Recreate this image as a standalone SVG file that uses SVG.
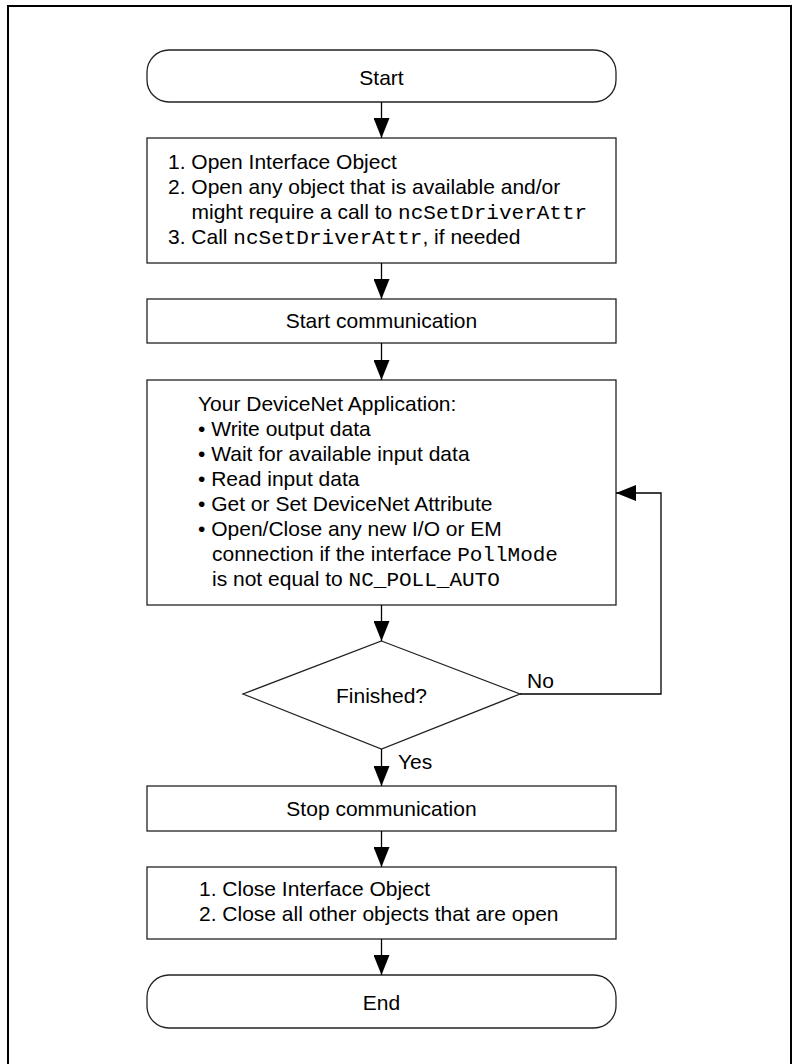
<svg xmlns="http://www.w3.org/2000/svg" width="800" height="1064" viewBox="0 0 800 1064">
<style>
.shape{fill:#fff;stroke:#222;stroke-width:1.3}
.t{font-family:"Liberation Sans",Arial,sans-serif;font-size:21px;fill:#000}
.c{text-anchor:middle}
.m{font-family:"Liberation Mono","Courier New",monospace}
.line{fill:none;stroke:#000;stroke-width:1.3}
</style>
<defs>
<marker id="ah" markerUnits="userSpaceOnUse" markerWidth="20" markerHeight="16" viewBox="0 0 20 16" refX="20" refY="8" orient="auto">
<path d="M0,0 L20,8 L0,16 Z" fill="#000"/>
</marker>
</defs>
<rect x="8" y="6" width="783" height="1080" fill="#fff" stroke="#000" stroke-width="2"/>
<g id="start">
<rect class="shape" x="147" y="50" width="469" height="52" rx="22" ry="22"/>
<text class="t c" x="381.5" y="84.5">Start</text>
</g>
<g id="open">
<rect class="shape" x="147" y="138" width="469" height="125"/>
<text class="t" x="168" y="169">1. Open Interface Object</text>
<text class="t" x="168" y="194">2. Open any object that is available and/or</text>
<text class="t" x="191.5" y="219">might require a call to <tspan class="m">ncSetDriverAttr</tspan></text>
<text class="t" x="168" y="244">3. Call <tspan class="m">ncSetDriverAttr</tspan>, if needed</text>
</g>
<g id="startcomm">
<rect class="shape" x="147" y="299" width="469" height="44"/>
<text class="t c" x="381.5" y="328">Start communication</text>
</g>
<g id="app">
<rect class="shape" x="147" y="380" width="469" height="225"/>
<text class="t" x="198" y="411">Your DeviceNet Application:</text>
<text class="t" x="198" y="436">• Write output data</text>
<text class="t" x="198" y="461">• Wait for available input data</text>
<text class="t" x="198" y="486">• Read input data</text>
<text class="t" x="198" y="511">• Get or Set DeviceNet Attribute</text>
<text class="t" x="198" y="536">• Open/Close any new I/O or EM</text>
<text class="t" x="212" y="561">connection if the interface <tspan class="m">PollMode</tspan></text>
<text class="t" x="212" y="586">is not equal to <tspan class="m">NC_POLL_AUTO</tspan></text>
</g>
<g id="finished">
<polygon class="shape" points="381.5,641 520,694 381.5,749 243,694"/>
<text class="t c" x="381.5" y="703">Finished?</text>
</g>
<g id="stopcomm">
<rect class="shape" x="147" y="786" width="469" height="45"/>
<text class="t c" x="381.5" y="816">Stop communication</text>
</g>
<g id="close">
<rect class="shape" x="147" y="867" width="469" height="72"/>
<text class="t" x="199" y="895.5">1. Close Interface Object</text>
<text class="t" x="199" y="920.5">2. Close all other objects that are open</text>
</g>
<g id="end">
<rect class="shape" x="147" y="975" width="469" height="53" rx="22" ry="22"/>
<text class="t c" x="381.5" y="1010">End</text>
</g>
<g id="connectors">
<line class="line" x1="381.5" y1="102" x2="381.5" y2="138" marker-end="url(#ah)"/>
<line class="line" x1="381.5" y1="263" x2="381.5" y2="299" marker-end="url(#ah)"/>
<line class="line" x1="381.5" y1="343" x2="381.5" y2="380" marker-end="url(#ah)"/>
<line class="line" x1="381.5" y1="605" x2="381.5" y2="641" marker-end="url(#ah)"/>
<line class="line" x1="381.5" y1="749" x2="381.5" y2="786" marker-end="url(#ah)"/>
<line class="line" x1="381.5" y1="831" x2="381.5" y2="867" marker-end="url(#ah)"/>
<line class="line" x1="381.5" y1="939" x2="381.5" y2="975" marker-end="url(#ah)"/>
<polyline class="line" points="520,694 661,694 661,493 616,493" marker-end="url(#ah)"/>
<text class="t" x="527" y="688">No</text>
<text class="t" x="398" y="769">Yes</text>
</g>
</svg>
